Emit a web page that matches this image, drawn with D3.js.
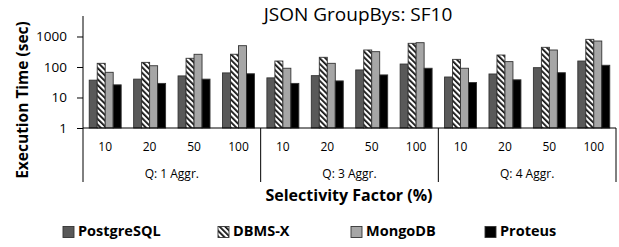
<!DOCTYPE html>
<html>
<head>
<meta charset="utf-8">
<script src="https://cdn.jsdelivr.net/npm/d3@7"></script>
<style>
  body { margin: 0; background: #fff; }
  text { font-family: "Open Sans", sans-serif; fill: #000; }
</style>
</head>
<body>
<svg width="619" height="247"></svg>
<script>
// Data
const groups = ["Q: 1 Aggr.", "Q: 3 Aggr.", "Q: 4 Aggr."];
const selectivity = ["10", "20", "50", "100"];
const series = ["PostgreSQL", "DBMS-X", "MongoDB", "Proteus"];
const postgres = [37, 40, 51, 64, 44, 52, 80, 125, 47, 59, 95, 157];
const dbmsx = [132, 142, 193, 262, 157, 208, 361, 598, 178, 247, 442, 807];
const mongo = [67, 110, 261, 500, 91, 132, 318, 627, 91, 150, 361, 711];
const proteus = [26, 29, 40, 60, 29, 35, 55, 91, 31, 38, 65, 114];
const yTicks = [1, 10, 100, 1000];

const values = [postgres, dbmsx, mongo, proteus];
const cats = [];
groups.forEach((g, gi) => selectivity.forEach((s, si) => cats.push({ key: gi + "-" + s, group: g, sel: s })));

const svg = d3.select("svg");
const left = 83, right = 616, baseY = 128, topY = 16, catBottom = 182;

// pattern for DBMS-X
const defs = svg.append("defs");
defs.append("pattern")
    .attr("id", "hatch")
    .attr("patternUnits", "userSpaceOnUse")
    .attr("width", 4).attr("height", 4)
    .attr("patternTransform", "rotate(-45)")
    .call(p => {
        p.append("rect").attr("width", 4).attr("height", 4).attr("fill", "#fff");
        p.append("rect").attr("width", 1.8).attr("height", 4).attr("fill", "#111");
    });

const fills = ["#595959", "url(#hatch)", "#a6a6a6", "#000"];

// Scales
const x = d3.scaleBand().domain(cats.map(d => d.key)).range([left, right]);
const xs = d3.scaleBand().domain(series).range([0, x.bandwidth()]).paddingOuter(0.78);
const y = d3.scaleLog().domain([1, 4700]).range([baseY, topY]);

// Bars
series.forEach((s, si) => {
    svg.append("g").selectAll("rect")
        .data(values[si])
        .enter()
        .append("rect")
        .attr("x", (d, i) => x(cats[i].key) + xs(s))
        .attr("y", d => y(d))
        .attr("width", xs.bandwidth())
        .attr("height", d => baseY - y(d))
        .attr("fill", fills[si])
        .attr("stroke", "#333")
        .attr("stroke-width", 0.9);
});

// Y axis
const yAxis = svg.append("g")
    .attr("transform", `translate(${left},0)`)
    .call(d3.axisLeft(y).tickValues(yTicks).tickFormat(d3.format("d")).tickSize(6).tickPadding(10));
yAxis.select(".domain").attr("stroke", "#000").attr("d", `M0,${topY}V${baseY}`);
yAxis.selectAll(".tick line").attr("stroke", "#000");
yAxis.selectAll("text").style("font-size", "13.5px").attr("fill", "#000");
// axis line continues down to the group labels
svg.append("line").attr("x1", left).attr("x2", left).attr("y1", baseY).attr("y2", catBottom).attr("stroke", "#000");

// X axis
svg.append("line").attr("x1", left).attr("x2", right).attr("y1", baseY).attr("y2", baseY).attr("stroke", "#000");
groups.forEach((g, gi) => {
    const xe = x(cats[gi * 4 + 3].key) + x.bandwidth();
    svg.append("line").attr("x1", xe).attr("x2", xe).attr("y1", baseY).attr("y2", catBottom).attr("stroke", "#000");
    const x0 = x(cats[gi * 4].key);
    svg.append("text")
        .attr("x", (x0 + xe) / 2).attr("y", 175)
        .attr("text-anchor", "middle").attr("dominant-baseline", "middle")
        .style("font-size", "12px")
        .text(g);
});
svg.append("g").selectAll("text")
    .data(cats)
    .enter()
    .append("text")
    .attr("x", d => x(d.key) + x.bandwidth() / 2)
    .attr("y", 148)
    .attr("text-anchor", "middle").attr("dominant-baseline", "middle")
    .style("font-size", "12px")
    .text(d => d.sel);

// Titles
svg.append("text")
    .attr("x", 358).attr("y", 16)
    .attr("text-anchor", "middle").attr("dominant-baseline", "middle")
    .style("font-size", "19px")
    .text("JSON GroupBys: SF10");

svg.append("text")
    .attr("x", 349).attr("y", 197)
    .attr("text-anchor", "middle").attr("dominant-baseline", "middle")
    .style("font-size", "16px").style("font-weight", "bold")
    .text("Selectivity Factor (%)");

svg.append("text")
    .attr("transform", "translate(24,100) rotate(-90)")
    .attr("text-anchor", "middle").attr("dominant-baseline", "middle")
    .style("font-size", "15.5px").style("font-weight", "bold")
    .text("Execution Time (sec)");

// Legend
const legendX = [63, 218, 351, 485];
const legend = svg.append("g").selectAll("g")
    .data(series)
    .enter()
    .append("g")
    .attr("transform", (d, i) => `translate(${legendX[i]},232)`);
legend.append("rect")
    .attr("x", 0).attr("y", -5.5)
    .attr("width", 11).attr("height", 11)
    .attr("fill", (d, i) => fills[i])
    .attr("stroke", "#333").attr("stroke-width", 0.9);
legend.append("text")
    .attr("x", 15).attr("y", 0)
    .attr("dominant-baseline", "middle")
    .style("font-size", "14.5px").style("font-weight", "bold")
    .text(d => d);
</script>
</body>
</html>
